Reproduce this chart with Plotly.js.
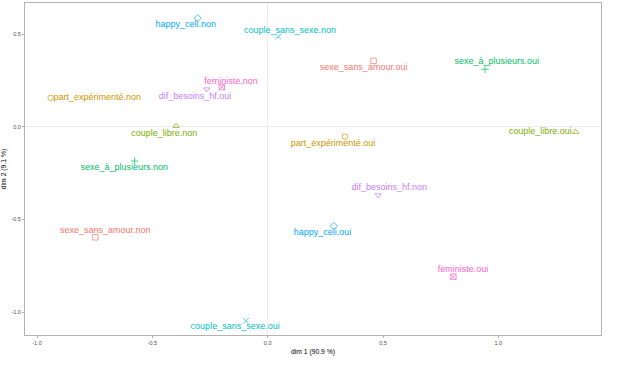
<!DOCTYPE html>
<html>
<head>
<meta charset="utf-8">
<script src="https://cdn.plot.ly/plotly-3.0.1.min.js"></script>
<style>html,body{margin:0;padding:0;background:#fff;}#chart{width:632px;height:366px;}</style>
</head>
<body>
<div id="chart"></div>
<script>
const groups = ["sexe_sans_amour","part_expérimenté","couple_libre","sexe_à_plusieurs","couple_sans_sexe","happy_celi","dif_besoins_hf","feministe"];
const groupColors = ["#F8766D","#CD9600","#7CAE00","#00BE67","#00BFC4","#00A9FF","#C77CFF","#FF61CC"];
const groupSymbols = ["square-open","circle-open","triangle-up-open","cross-thin-open","x-thin-open","diamond-open","triangle-down-open","square-x-open"];

const labels = ["happy_celi.non","couple_sans_sexe.non","feministe.non","dif_besoins_hf.oui","part_expérimenté.non","couple_libre.non","sexe_à_plusieurs.non","part_expérimenté.oui","sexe_sans_amour.oui","sexe_à_plusieurs.oui","couple_libre.oui","sexe_sans_amour.non","couple_sans_sexe.oui","happy_celi.oui","dif_besoins_hf.non","feministe.oui"];
const pointGroup = ["happy_celi","couple_sans_sexe","feministe","dif_besoins_hf","part_expérimenté","couple_libre","sexe_à_plusieurs","part_expérimenté","sexe_sans_amour","sexe_à_plusieurs","couple_libre","sexe_sans_amour","couple_sans_sexe","happy_celi","dif_besoins_hf","feministe"];
const dim1 = [-0.303,0.046,-0.199,-0.264,-0.941,-0.397,-0.577,0.335,0.459,0.942,1.335,-0.747,-0.094,0.287,0.479,0.805];
const dim2 = [0.588,0.488,0.215,0.204,0.158,0.005,-0.184,-0.052,0.357,0.312,-0.027,-0.596,-1.047,-0.535,-0.368,-0.809];
const labelDim1 = [-0.355,0.097,-0.159,-0.315,-0.739,-0.448,-0.622,0.283,0.416,0.993,1.182,-0.704,-0.141,0.238,0.527,0.847];
const labelDim2 = [0.551,0.521,0.245,0.166,0.158,-0.034,-0.220,-0.090,0.321,0.350,-0.027,-0.561,-1.079,-0.571,-0.326,-0.773];

const tickVals = [-1.0,-0.5,0.0,0.5,1.0];
const xTickText = ["-1.0","-0.5","0.0","0.5","1.0"];
const yTickText = ["-1.0","-0.5","0.0","0.5","1.0"];

const colorOf = g => groupColors[groups.indexOf(g)];
const symbolOf = g => groupSymbols[groups.indexOf(g)];
const ptColors = pointGroup.map(colorOf);

const traces = [
  {
    type: "scatter", mode: "markers",
    x: dim1, y: dim2,
    marker: {size: 5.5, symbol: pointGroup.map(symbolOf), color: ptColors, line: {color: ptColors, width: 0.7}},
    hoverinfo: "skip", showlegend: false
  },
  {
    type: "scatter", mode: "text",
    x: labelDim1, y: labelDim2, text: labels,
    textposition: "middle center",
    textfont: {family: "Liberation Sans, Arial, sans-serif", size: 9, color: ptColors},
    hoverinfo: "skip", showlegend: false
  }
];

const axisCommon = {
  showgrid: false,
  zeroline: true, zerolinecolor: "#ededed", zerolinewidth: 1,
  showline: true, mirror: true, linecolor: "#b3b3b3", linewidth: 1,
  ticks: "outside", ticklen: 2, tickcolor: "#8c8c8c", tickwidth: 0.7,
  tickfont: {family: "Liberation Sans, Arial, sans-serif", size: 5.5, color: "#4d4d4d"},
  tickvals: tickVals
};

const layout = {
  width: 632, height: 366,
  margin: {l: 25, r: 31, t: 3, b: 31},
  paper_bgcolor: "#ffffff", plot_bgcolor: "#ffffff",
  xaxis: Object.assign({}, axisCommon, {
    range: [-1.052, 1.445], ticktext: xTickText,
    title: {text: "dim 1 (90.9 %)", font: {family: "Liberation Sans, Arial, sans-serif", size: 6.8, color: "#000"}, standoff: 4}
  }),
  yaxis: Object.assign({}, axisCommon, {
    range: [-1.124, 0.670], ticktext: yTickText,
    title: {text: "dim 2 (9.1 %)", font: {family: "Liberation Sans, Arial, sans-serif", size: 6.8, color: "#000"}, standoff: 4}
  }),
  showlegend: false
};

Plotly.newPlot("chart", traces, layout, {displayModeBar: false, staticPlot: true});
</script>
</body>
</html>
